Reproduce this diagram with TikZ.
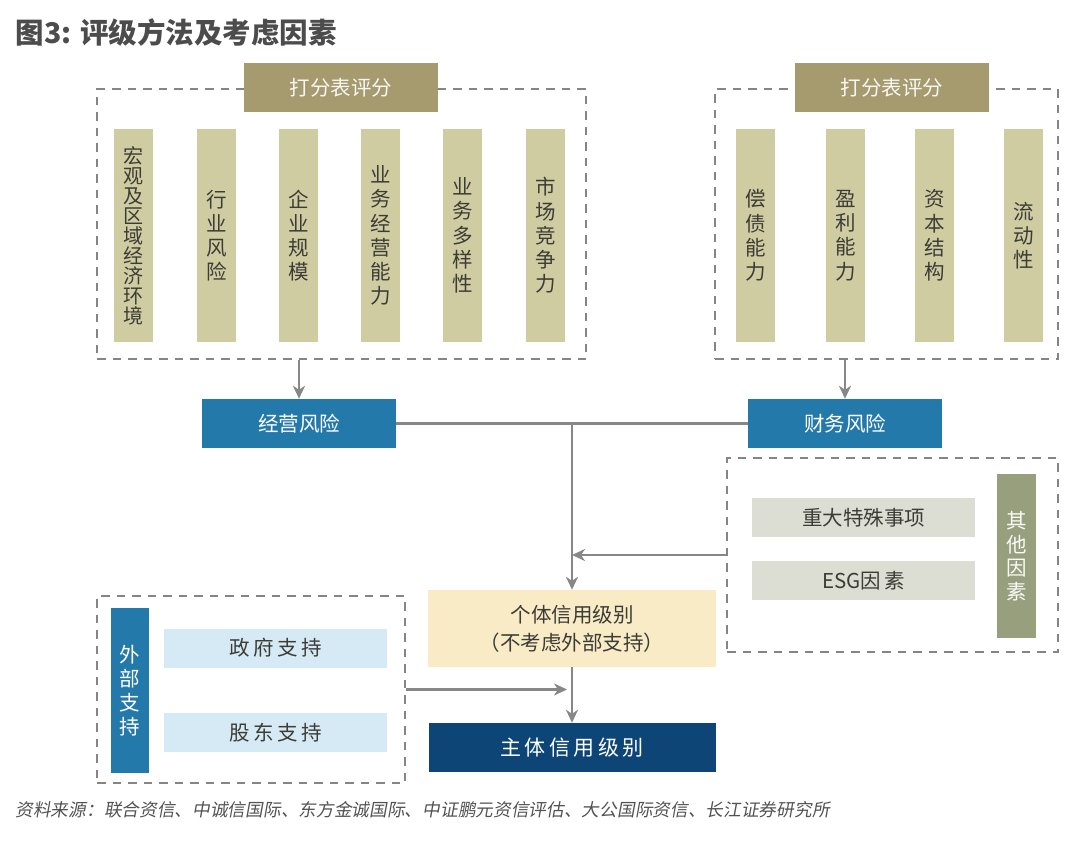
\documentclass[tikz,border=0pt]{standalone}
\usepackage{fontspec}
\setmainfont{Noto Sans CJK SC}
\newfontfamily\noteit{Noto Sans CJK SC}[FakeSlant=0.18]
\usepackage{tikz}
\usetikzlibrary{arrows.meta}

\definecolor{dashgray}{HTML}{858585}
\definecolor{linkgray}{HTML}{878787}
\definecolor{olive}{HTML}{A69A6F}
\definecolor{khaki}{HTML}{D0CCA2}
\definecolor{riskblue}{HTML}{2479AB}
\definecolor{paleblue}{HTML}{D6EAF5}
\definecolor{paleyellow}{HTML}{F8EBC6}
\definecolor{navy}{HTML}{0D4576}
\definecolor{palegreen}{HTML}{DCDED3}
\definecolor{sage}{HTML}{979F7D}
\definecolor{darktext}{HTML}{3C3C36}

\newcommand{\gapch}{\hspace{3.5pt}}

\begin{document}
\begin{tikzpicture}[x=1pt, y=-1pt, >={Stealth[length=13pt,width=12pt,inset=4pt]},
    dbox/.style={draw=dashgray, line width=2.4pt, dash pattern=on 8.5pt off 7pt, inner sep=0},
    head/.style={fill=olive, text=white!92!olive, minimum width=194, minimum height=49, inner sep=0, font=\fontsize{20.5}{23}\selectfont},
    bar/.style={fill=khaki, text=darktext, minimum width=39, minimum height=213, inner sep=0, align=center, font=\fontsize{20.5}{24.2}\selectfont},
    risk/.style={fill=riskblue, text=white, minimum width=194, minimum height=49, inner sep=0, font=\fontsize{20.5}{23}\selectfont},
    item/.style={text=darktext, minimum width=223, minimum height=39, inner sep=0, font=\fontsize{20.5}{23}\selectfont},
    link/.style={draw=linkgray, line width=2.8pt}]
        \useasboundingbox (0,0) rectangle (1080,841);

        % title
        \node (t) at (12,32.5) [anchor=west, text=black!70, font=\fontsize{28.5}{31}\selectfont\bfseries] {图3: 评级方法及考虑因素};

        % scoring sheet, left
        \node (fa) at (341.5,224) [dbox, minimum width=489, minimum height=270] {};
        \node (sa) at (341,87.5) [head] {打分表评分};
        \node (a1) at (133.5,235.5) [bar, font=\fontsize{20}{20}\selectfont] {宏\\观\\及\\区\\域\\经\\济\\环\\境};
        \node (a2) at (216.5,235.5) [bar] {行\\业\\风\\险};
        \node (a3) at (298.5,235.5) [bar] {企\\业\\规\\模};
        \node (a4) at (380.5,235.5) [bar] {业\\务\\经\\营\\能\\力};
        \node (a5) at (462.5,235.5) [bar] {业\\务\\多\\样\\性};
        \node (a6) at (545.5,235.5) [bar] {市\\场\\竞\\争\\力};

        % scoring sheet, right
        \node (fb) at (886.5,224) [dbox, minimum width=343, minimum height=270] {};
        \node (sb) at (892,87.5) [head] {打分表评分};
        \node (b1) at (755.5,235.5) [bar] {偿\\债\\能\\力};
        \node (b2) at (845.5,235.5) [bar] {盈\\利\\能\\力};
        \node (b3) at (934.5,235.5) [bar] {资\\本\\结\\构};
        \node (b4) at (1023.5,235.5) [bar] {流\\动\\性};

        % risks
        \node (r1) at (299,423.5) [risk] {经营风险};
        \node (r2) at (845,423.5) [risk] {财务风险};
        \coordinate (j) at (572,423.5);

        % other factors
        \node (fo) at (892.5,555) [dbox, minimum width=331, minimum height=194] {};
        \node (o1) at (863.5,517.5) [item, fill=palegreen] {重大特殊事项};
        \node (o2) at (863.5,580.5) [item, fill=palegreen] {ESG因\,素};
        \node (o3) at (1016.5,556) [fill=sage, text=white!95!sage, minimum width=39, minimum height=164, inner sep=0, align=center, font=\fontsize{20.5}{23.5}\selectfont] {其\\他\\因\\素};

        % external support
        \node (fw) at (251,689.5) [dbox, minimum width=308, minimum height=187] {};
        \node (w) at (130,690.5) [fill=riskblue, text=white, minimum width=38, minimum height=165, inner sep=0, align=center, font=\fontsize{20.5}{24}\selectfont] {外\\部\\支\\持};
        \node (e1) at (275.5,648) [item, fill=paleblue] {政\gapch 府\gapch 支\gapch 持};
        \node (e2) at (275.5,732.5) [item, fill=paleblue] {股\gapch 东\gapch 支\gapch 持};

        % ratings
        \node (g) at (572,628.5) [fill=paleyellow, text=darktext, minimum width=288, minimum height=77, inner sep=0, align=center, font=\fontsize{20.5}{28}\selectfont] {个体信用级别\\（不考虑外部支持）};
        \node (z) at (572,747.5) [fill=navy, text=white, minimum width=287, minimum height=49, inner sep=0, font=\fontsize{21}{23}\selectfont] {主\gapch 体\gapch 信\gapch 用\gapch 级\gapch 别};

        \draw[link,->] (fa.south -| r1) -- (r1);
        \draw[link,->] (fb.south -| r2) -- (r2);
        \draw[link] (r1) -- (r2);
        \draw[link,->] (j) -- (g);
        \draw[link,->] (fo.west) -- (fo.west -| j);
        \draw[link,->,shorten >=5pt] (fw.east) -- (fw.east -| g);
        \draw[link,->] (g) -- (z);

        % source
        \node (src) at (12,810) [anchor=west, text=black!68, font=\fontsize{17.7}{20}\selectfont\noteit] {资料来源：联合资信、中诚信国际、东方金诚国际、中证鹏元资信评估、大公国际资信、长江证券研究所};

    \end{tikzpicture}
\end{document}
